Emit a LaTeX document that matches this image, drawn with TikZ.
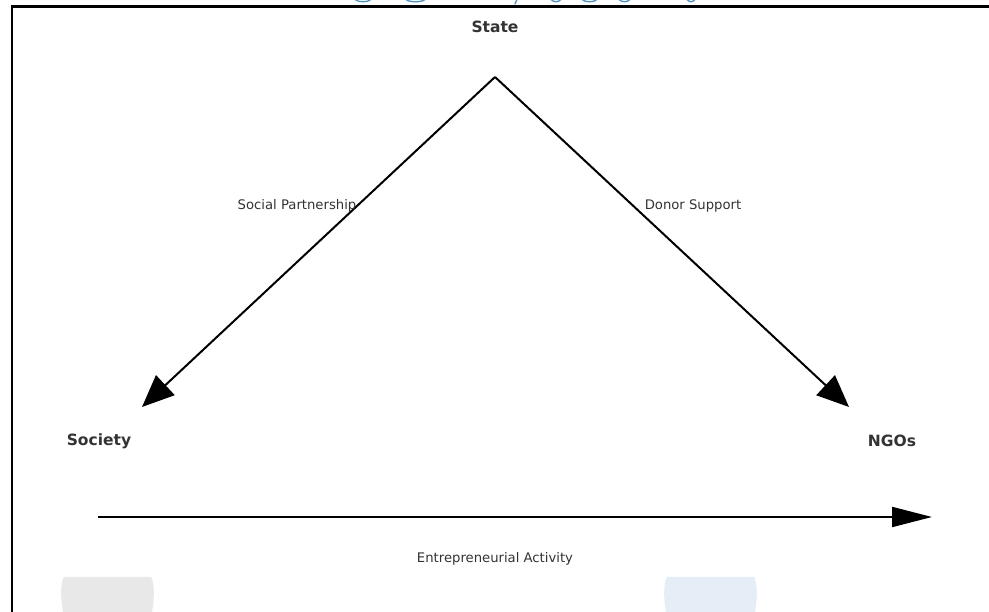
\documentclass[tikz,border=0pt]{standalone}
\usepackage{fontspec}
\setmainfont{DejaVu Sans}
\usetikzlibrary{arrows.meta}
\definecolor{txt}{HTML}{333333}
\definecolor{ttl}{HTML}{4A90C4}
\definecolor{blobgray}{HTML}{E8E8E8}
\definecolor{blobblue}{HTML}{E5EEF7}
\tikzset{
  x=1pt,y=1pt,
  actor/.style={font=\bfseries\fontsize{15.5}{18}\selectfont, text=txt, inner sep=0pt},
  rel/.style={font=\fontsize{13.2}{15}\selectfont, text=txt, inner sep=0pt},
  flow/.style={line width=2pt, -{Triangle[length=32pt,width=27pt]}},
  hflow/.style={line width=2pt, -{Triangle[length=40pt,width=20pt]}},
  frag/.style={draw=ttl, line width=1.3pt, line cap=round}
}
\begin{document}
\begin{tikzpicture}
\useasboundingbox (0,0) rectangle (989,612);
\fill[white] (0,0) rectangle (989,612);
% cut-off title fragments
\foreach \a/\b in {355/371, 406/425, 551/561, 582/597, 619/630, 687/695}{
  \draw[frag] (\a,612.5) .. controls (\a+3,609.5) and (\b-3,609.5) .. (\b,612.5);
}
\draw[frag] (517,612.5) -- (515,608);
% frame
\draw[line width=2.2pt] (989,605.5) -- (12,605.5) -- (12,0);
% blobs
\fill[blobgray] (63,0) .. controls (60,15) and (61,31) .. (64,35) -- (151,35) .. controls (154,31) and (155,15) .. (152,0) -- cycle;
\fill[blobblue] (666,0) .. controls (663,15) and (664,31) .. (667,35) -- (754,35) .. controls (757,31) and (758,15) .. (755,0) -- cycle;
% nodes
\node[actor] (state) at (495,585) {State};
\node[actor] (society) at (99,171) {Society};
\node[actor] (ngos) at (892,171) {NGOs};
\coordinate (apex) at (495,535);
\coordinate (ltip) at (142,205);
\coordinate (rtip) at (849,205);
\coordinate (bstart) at (98,95);
\coordinate (bend) at (932,95);
% connectors
\draw[flow] (apex) -- (ltip);
\draw[flow] (apex) -- (rtip);
\draw[hflow] (bstart) -- (bend);
% labels
\node[rel] (lsp) at (297,406.5) {Social Partnership};
\node[rel] (lds) at (693,406.5) {Donor Support};
\node[rel] (lea) at (495,53.5) {Entrepreneurial Activity};
\end{tikzpicture}
\end{document}
